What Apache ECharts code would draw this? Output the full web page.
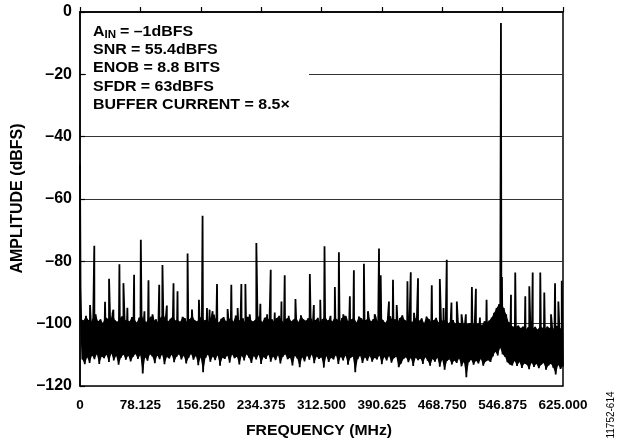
<!DOCTYPE html>
<html>
<head>
<meta charset="utf-8">
<script src="https://cdn.jsdelivr.net/npm/echarts@6/dist/echarts.min.js"></script>
<style>
html,body{margin:0;padding:0;background:#fff;}
#c{width:618px;height:444px;}
</style>
</head>
<body>
<div id="c"></div>
<script>
// ---- data ----
const xTickLabels = ['0','78.125','156.250','234.375','312.500','390.625','468.750','546.875','625.000'];
const yTickLabels = ['–120','–100','–80','–60','–40','–20','0'];

// DC bins
const dcFreq = [0, 0.7];
const dcAmp  = [-49, -88.5];

// spurs + fundamental (MHz, dBFS)
const spurFreq = [13.0,18.5,32.4,37.6,43.2,51.0,56.2,61.3,70.0,78.7,83.4,88.6,93.8,102.5,106.7,112.4,121.0,126.2,139.2,144.9,153.9,
  158.6,164.3,167.7,171.6,177.3,191.0,195.8,204.0,208.8,214.0,219.6,228.2,233.4,242.1,246.8,252.0,260.7,264.9,270.1,278.8,297.4,302.6,310.9,
  316.4,324.2,329.8,335.0,340.7,343.7,349.2,354.4,367.4,372.6,381.3,386.9,389.1,399.8,405.0,409.8,423.7,428.0,432.2,437.4,455.2,465.6,
  470.4,474.6,480.7,487.6,493.7,499.3,507.1,512.3,517.5,526.1,544.7,546.0,557.7,563.2,576.2,581.4,585.8,595.6,600.8,609.5,614.7,619.0,623.4];
const spurAmp = [-94,-75,-93,-85.6,-95.5,-80.9,-87,-94.9,-84.3,-73.1,-96,-86.1,-97,-87.5,-81.2,-94.2,-87,-89.6,-77.5,-95.5,-92.3,
  -65.4,-95,-95.5,-96,-87.3,-95.3,-87.5,-95,-87.3,-87.3,-97,-74.1,-93.6,-97,-82.7,-96.4,-92.9,-84.5,-97.5,-92.1,-84.1,-94,-92.3,
  -75.2,-97.5,-88.2,-77.1,-97,-97.5,-91.2,-82.9,-80.8,-96,-97,-75.9,-84.5,-92.9,-85.9,-94,-86.4,-83.5,-96.5,-85.4,-87.7,-85.7,
  -95,-79.5,-93.2,-92.9,-97,-97,-88.2,-88.8,-98,-92.3,-3.5,-85,-90.7,-83.6,-91.2,-88,-83.6,-83.6,-90,-97,-87,-92.9,-86.2];

// noise floor: upper and lower excursions, one pair per 3.125 MHz starting at 1.5 MHz
const noiseStart = 1.5, noiseStep = 3.125;
const noiseHi = [
 -98.5,-99,-97.5,-98.8,-99.5,-98,-97,-99.2,-98.6,-99.8,-97.8,-98.4,-99.1,-96.8,-98.9,-99.4,-98.2,-97.6,-99,-98.7,
 -99.3,-97.9,-98.5,-99.6,-98.1,-97.2,-98.8,-99.5,-98.3,-97.7,-99.1,-98.6,-99.8,-98,-96.9,-98.7,-99.2,-98.4,-97.5,-99,
 -98.8,-99.4,-97.8,-98.3,-99.7,-98.5,-97.3,-98.9,-99.3,-98.1,-97.6,-99,-98.6,-99.5,-98.2,-97.1,-98.8,-99.6,-98.4,-97.9,
 -99.2,-98.7,-98,-99.4,-97.4,-98.6,-99.1,-98.3,-99.7,-97.8,-98.5,-99.3,-98.9,-97.2,-98.4,-99.5,-98.1,-97.7,-99,-98.6,
 -99.4,-98.2,-97.5,-98.9,-99.6,-98.4,-97.9,-99.2,-98.7,-98,-99.5,-97.3,-98.6,-99.1,-98.3,-97.8,-99.4,-98.8,-98.1,-99.7,
 -98.5,-97.6,-99,-98.4,-99.3,-97.9,-98.7,-99.5,-98.2,-97.4,-98.9,-99.2,-98.6,-98,-99.6,-97.7,-98.3,-99.1,-98.8,-97.5,
 -99.3,-98.5,-98.1,-99.4,-97.8,-98.9,-99.7,-98.3,-97.6,-99,-98.6,-99.5,-98.2,-97.3,-98.8,-99.2,-98.4,-99.6,-97.9,-98.7,
 -99.1,-98.3,-99.8,-97.7,-98.5,-99.4,-98.9,-98.1,-99.6,-98.6,-99.2,-98.4,-99.9,-99.3,-98.8,-100.1,-99.5,-99.9,-100.3,-99.6,
 -100.2,-99.8,-100.5,-99.4,-100.1,-99.7,-100.4,-99.2,-99.6,-99,-98,-96.5,-95,-93.8,-93.5,-95,-97,-99.5,-100.5,-101,
 -101,-100.6,-101.4,-100.9,-101.8,-101.2,-100.7,-101.5,-101,-101.9,-100.8,-101.3,-101.7,-100.9,-101.4,-101.1,-101.8,-100.7,-101.3,-101.6
];
const noiseLo = [
 -111.5,-113,-110.8,-112.6,-110.2,-111.4,-109.8,-112.9,-110.5,-111.1,-110,-112.3,-109.6,-111.8,-110.4,-113.2,-110.9,-109.9,-111.6,-110.3,
 -112.1,-110.6,-109.7,-111.3,-110.1,-116,-110.8,-111.9,-109.8,-110.5,-112.7,-110.2,-111.4,-109.9,-113,-110.7,-111.2,-110,-112.4,-110.6,
 -109.8,-111.5,-110.3,-112.8,-110.9,-109.7,-111.6,-110.4,-113.3,-110.8,-115.6,-111,-109.9,-112.2,-110.5,-111.7,-110.1,-113.5,-110.9,-111.3,
 -110.2,-112.5,-109.9,-111.1,-110.6,-113.1,-110.3,-111.8,-109.8,-110.9,-112.6,-110.4,-111.5,-110,-112.9,-110.7,-111.3,-109.9,-112.2,-110.5,
 -111.7,-110.1,-112.8,-110.6,-109.8,-111.4,-110.9,-113.4,-110.3,-111.2,-114,-110.8,-112.1,-110.2,-111.6,-109.9,-112.7,-110.5,-111.3,-110.8,
 -114.1,-110.4,-112.3,-110.9,-111.5,-110.1,-112.9,-110.6,-111.8,-110.2,-113.2,-111,-110.5,-115.6,-111.4,-110.3,-112.6,-110.8,-111.9,-110.4,
 -112.2,-110.9,-111.5,-110.2,-113,-110.7,-111.8,-110.4,-112.5,-111.1,-110.6,-114,-112.8,-111.3,-110.8,-112.4,-111,-113.6,-110.9,-111.7,
 -111.2,-112.9,-110.8,-111.9,-113.5,-111.3,-112.2,-110.9,-113.8,-111.6,-114.8,-112,-111.4,-113.1,-111.8,-112.6,-111.2,-113.7,-112.3,-117.2,
 -112.4,-111.6,-113.2,-111.9,-112.8,-111.3,-113.5,-112.1,-111.7,-112.3,-110.5,-109,-110.2,-107.7,-109.8,-110.6,-112.4,-113.1,-113.4,-112,
 -113.6,-112.3,-114.2,-112.8,-113.1,-114.6,-112.5,-113.9,-112.9,-114.3,-113.2,-112.6,-114.8,-113.4,-112.9,-114.1,-116.3,-113.3,-114.5,-113.7
];

// ---- build the trace ----
const pts = [];
dcFreq.forEach((f, i) => pts.push([f, dcAmp[i]]));
noiseHi.forEach((v, i) => {
  const f = noiseStart + i * noiseStep;
  pts.push([f, v]);
  pts.push([f + noiseStep / 2, noiseLo[i]]);
});
spurFreq.forEach((f, i) => pts.push([f, spurAmp[i]]));
pts.sort((a, b) => a[0] - b[0]);

const FONT = '"Liberation Sans", Arial, Helvetica, sans-serif';
const chart = echarts.init(document.getElementById('c'), null, {renderer: 'canvas'});

const txt = (t, x, y, size) => ({
  type: 'text', x: x, y: y, z: 101, scaleX: 1.1,
  style: {text: t, font: 'bold ' + size + 'px ' + FONT, fill: '#000', textAlign: 'left', textVerticalAlign: 'middle'}
});

chart.setOption({
  animation: false,
  backgroundColor: '#fff',
  grid: {left: 80, right: 55, top: 12, bottom: 58, show: true, borderColor: '#000', borderWidth: 1.5, containLabel: false},
  xAxis: {
    type: 'value', min: 0, max: 625, interval: 78.125,
    axisLine: {show: true, lineStyle: {color: '#000', width: 1.5}},
    axisTick: {show: true, inside: true, length: 5, lineStyle: {color: '#000', width: 1.2}},
    splitLine: {show: false},
    axisLabel: {
      color: '#000', fontFamily: FONT, fontWeight: 'bold', fontSize: 13.5, margin: 12,
      formatter: v => xTickLabels[Math.round(v / 78.125)]
    }
  },
  yAxis: {
    type: 'value', min: -120, max: 0, interval: 20,
    axisLine: {show: true, lineStyle: {color: '#000', width: 1.5}},
    axisTick: {show: true, inside: true, length: 5, lineStyle: {color: '#000', width: 1.2}},
    splitLine: {show: true, lineStyle: {color: '#333', width: 1}},
    axisLabel: {
      color: '#000', fontFamily: FONT, fontWeight: 'bold', fontSize: 16, margin: 8,
      formatter: v => yTickLabels[Math.round((v + 120) / 20)]
    }
  },
  series: [
    {
      type: 'custom', coordinateSystem: 'cartesian2d', data: [[0, -105]], silent: true, z: 3, clip: true,
      renderItem: (params, api) => {
        const poly = [];
        noiseHi.forEach((v, i) => poly.push(api.coord([noiseStart + i * noiseStep, v])));
        for (let i = noiseLo.length - 1; i >= 0; i--) {
          poly.push(api.coord([noiseStart + i * noiseStep + noiseStep / 2, noiseLo[i]]));
        }
        return {type: 'polygon', shape: {points: poly}, style: {fill: '#000'}};
      }
    },
    {
      type: 'line', data: pts, showSymbol: false, symbol: 'none', sampling: null,
      lineStyle: {color: '#000', width: 1.8}, z: 4, clip: true
    }
  ],
  graphic: [
    {type: 'rect', z: 100, shape: {x: 86, y: 18, width: 223, height: 98}, style: {fill: '#fff'}},
    txt('A', 93, 31.7, 14.5),
    txt('IN', 104.5, 35.5, 10.5),
    txt('= –1dBFS', 120, 31.7, 14.5),
    txt('SNR = 55.4dBFS', 93, 50, 14.5),
    txt('ENOB = 8.8 BITS', 93, 68.3, 14.5),
    txt('SFDR = 63dBFS', 93, 86.7, 14.5),
    txt('BUFFER CURRENT = 8.5×', 93, 105, 14.5),
    {type: 'text', x: 17.5, y: 198.5, rotation: Math.PI / 2, z: 101,
     style: {text: 'AMPLITUDE (dBFS)', font: 'bold 16px ' + FONT, fill: '#000', textAlign: 'center', textVerticalAlign: 'middle'}},
    {type: 'text', x: 319, y: 431, z: 101, scaleX: 1.05,
     style: {text: 'FREQUENCY (MHz)', font: 'bold 15px ' + FONT, fill: '#000', textAlign: 'center', textVerticalAlign: 'middle'}},
    {type: 'text', x: 611, y: 415, rotation: Math.PI / 2, z: 101,
     style: {text: '11752-614', font: '10px ' + FONT, fill: '#000', textAlign: 'center', textVerticalAlign: 'middle'}}
  ]
});
</script>
</body>
</html>
